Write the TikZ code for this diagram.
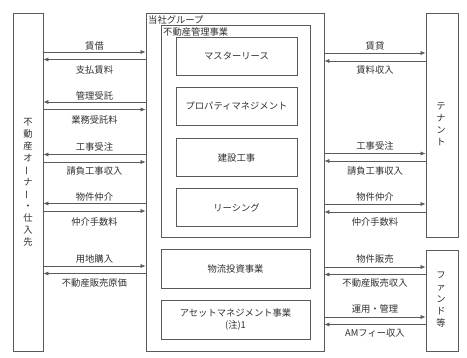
\documentclass[tikz,border=0pt]{standalone}
\usepackage{fontspec}
\setmainfont{Noto Sans CJK JP}
\usetikzlibrary{arrows.meta}
\definecolor{lc}{HTML}{5A5A5A}
\definecolor{tc}{HTML}{303030}
\tikzset{
  box/.style={draw=lc, line width=0.7pt, inner sep=0pt},
  lbl/.style={font=\fontsize{9.3}{11}\selectfont, text=tc, inner sep=0pt},
  vlbl/.style={font=\fontsize{9.3}{12}\selectfont, text=tc, inner sep=0pt, align=center},
  arr/.style={draw=lc, line width=0.6pt, -{Latex[length=5pt,width=4pt]}},
}
\newcommand{\vbar}{\rotatebox[origin=c]{90}{ー}}
\begin{document}
\begin{tikzpicture}[x=1pt,y=-1pt]
\useasboundingbox[fill=white] (0,0) rectangle (467,358);
% main boxes
\node[box, minimum width=30pt, minimum height=338pt] (owner) at (28,182) {};
\node[box, minimum width=178pt, minimum height=338pt] (group) at (235,182) {};
\node[box, minimum width=149pt, minimum height=212pt] (mgmt) at (235.5,131) {};
\node[box, minimum width=121pt, minimum height=38pt] (ml) at (236.5,56) {};
\node[box, minimum width=121pt, minimum height=38pt] (pm) at (236.5,106.5) {};
\node[box, minimum width=121pt, minimum height=38pt] (ken) at (236.5,157.5) {};
\node[box, minimum width=121pt, minimum height=38pt] (ls) at (236.5,207.5) {};
\node[box, minimum width=149pt, minimum height=39pt] (logi) at (235.5,268.5) {};
\node[box, minimum width=149pt, minimum height=39pt] (am) at (235.5,319.5) {};
\node[box, minimum width=32pt, minimum height=224pt] (tenant) at (442,125) {};
\node[box, minimum width=32pt, minimum height=101pt] (fund) at (442,300.5) {};
% texts in boxes
\node[lbl, anchor=west] (tgroup) at (148,20) {当社グループ};
\node[lbl, anchor=west] (tmgmt) at (163,32) {不動産管理事業};
\node[lbl] at (ml) {マスターリース};
\node[lbl] at (pm) {プロパティマネジメント};
\node[lbl] at (ken) {建設工事};
\node[lbl] at (ls) {リーシング};
\node[lbl] at (logi) {物流投資事業};
\node[lbl, align=center, font=\fontsize{9.3}{12.5}\selectfont] at (am) {アセットマネジメント事業\\(注)1};
\node[vlbl] at (28,182) {不\\動\\産\\オ\\\vbar\\ナ\\\vbar\\・\\仕\\入\\先};
\node[vlbl] at (441,124) {テ\\ナ\\ン\\ト};
\node[vlbl] at (441,300) {フ\\ァ\\ン\\ド\\等};
% left arrows
\draw[arr] (owner.east |- 0,52) -- (group.west |- 0,52);
\draw[arr] (group.west |- 0,59.5) -- (owner.east |- 0,59.5);
\node[lbl] at (94.5,46) {賃借};
\node[lbl] at (94.5,70) {支払賃料};
\draw[arr] (group.west |- 0,102) -- (owner.east |- 0,102);
\draw[arr] (owner.east |- 0,109.5) -- (group.west |- 0,109.5);
\node[lbl] at (94.5,96) {管理受託};
\node[lbl] at (94.5,120) {業務受託料};
\draw[arr] (group.west |- 0,154.5) -- (owner.east |- 0,154.5);
\draw[arr] (owner.east |- 0,162) -- (group.west |- 0,162);
\node[lbl] at (94.5,147) {工事受注};
\node[lbl] at (94.5,171) {請負工事収入};
\draw[arr] (group.west |- 0,203.5) -- (owner.east |- 0,203.5);
\draw[arr] (owner.east |- 0,211) -- (group.west |- 0,211);
\node[lbl] at (94.5,197) {物件仲介};
\node[lbl] at (94.5,222) {仲介手数料};
\draw[arr] (owner.east |- 0,266) -- (group.west |- 0,266);
\draw[arr] (group.west |- 0,273.5) -- (owner.east |- 0,273.5);
\node[lbl] at (94.5,259) {用地購入};
\node[lbl] at (94.5,283) {不動産販売原価};
% right arrows
\draw[arr] (group.east |- 0,53) -- (tenant.west |- 0,53);
\draw[arr] (tenant.west |- 0,61) -- (group.east |- 0,61);
\node[lbl] at (375,46) {賃貸};
\node[lbl] at (375,70) {賃料収入};
\draw[arr] (group.east |- 0,153.5) -- (tenant.west |- 0,153.5);
\draw[arr] (tenant.west |- 0,161) -- (group.east |- 0,161);
\node[lbl] at (375,146) {工事受注};
\node[lbl] at (375,171) {請負工事収入};
\draw[arr] (group.east |- 0,204) -- (tenant.west |- 0,204);
\draw[arr] (tenant.west |- 0,212) -- (group.east |- 0,212);
\node[lbl] at (375,197) {物件仲介};
\node[lbl] at (375,222) {仲介手数料};
\draw[arr] (group.east |- 0,267) -- (fund.west |- 0,267);
\draw[arr] (fund.west |- 0,274.5) -- (group.east |- 0,274.5);
\node[lbl] at (375,259) {物件販売};
\node[lbl] at (375,282.5) {不動産販売収入};
\draw[arr] (group.east |- 0,317) -- (fund.west |- 0,317);
\draw[arr] (fund.west |- 0,324.5) -- (group.east |- 0,324.5);
\node[lbl] at (375,309) {運用・管理};
\node[lbl] at (375,333) {AMフィー収入};
\end{tikzpicture}
\end{document}
